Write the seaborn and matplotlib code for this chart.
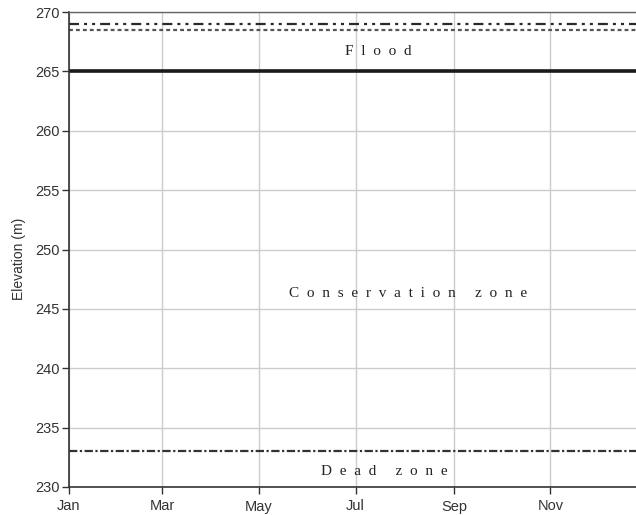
import matplotlib
matplotlib.use('Agg')
import matplotlib.pyplot as plt
import pandas as pd
import seaborn as sns

# Niveaux du réservoir (m)
dates = pd.to_datetime(['2001-01-01', '2001-12-31'])
niveau_max = [269.0, 269.0]
niveau_crue = [268.5, 268.5]
niveau_conservation = [265.0, 265.0]
niveau_mort = [233.0, 233.0]

zones = ['F  l  o  o  d', 'C  o  n  s  e  r  v  a  t  i  o  n     z  o  n  e', 'D  e  a  d     z  o  n  e']
zones_elev = [266.7, 246.3, 231.3]
zones_date = pd.to_datetime(['2001-07-15', '2001-08-03', '2001-07-19'])

mois = pd.to_datetime(['2001-01-01', '2001-03-01', '2001-05-01',
                       '2001-07-01', '2001-09-01', '2001-11-01'])
mois_labels = ['Jan', 'Mar', 'May', 'Jul', 'Sep', 'Nov']

sns.set_style('white')
plt.rcParams['font.family'] = ['Liberation Sans', 'DejaVu Sans']
plt.rcParams['lines.scale_dashes'] = False

fig = plt.figure(figsize=(6.36, 5.15), dpi=100)
ax = fig.add_axes([69 / 636, 1 - 487 / 515, 1 - 69 / 636, (487 - 12) / 515])

df = pd.DataFrame({'date': dates, 'max': niveau_max, 'crue': niveau_crue,
                   'cons': niveau_conservation, 'mort': niveau_mort})

sns.lineplot(data=df, x='date', y='max', ax=ax, color='#2a2a2a', lw=1.6,
             linestyle=(0, (7.2, 3.6, 2.2, 3.6, 2.2, 3.6)))
sns.lineplot(data=df, x='date', y='crue', ax=ax, color='#555555', lw=1.6,
             linestyle=(0, (2.8, 2.2)))
sns.lineplot(data=df, x='date', y='cons', ax=ax, color='#1a1a1a', lw=2.6)
sns.lineplot(data=df, x='date', y='mort', ax=ax, color='#333333', lw=1.6,
             linestyle=(0, (6.0, 1.8, 1.6, 1.8)))

for txt, d, e in zip(zones, zones_date, zones_elev):
    ax.text(d, e, txt, ha='center', va='center', fontsize=11,
            family=['Liberation Serif', 'DejaVu Serif'], color='#222222')

ax.set_ylim(230, 270)
ax.set_yticks(range(230, 271, 5))
ax.set_xlim(pd.Timestamp('2001-01-01'), pd.Timestamp('2001-12-25'))
ax.set_xticks(mois)
ax.set_xticklabels(mois_labels)
ax.grid(True, color='#cccccc', lw=1)
ax.set_axisbelow(True)
ax.tick_params(axis='both', direction='out', length=5, width=1, color='#333333',
               labelsize=10.5, labelcolor='#333333', left=True, bottom=True)
ax.tick_params(axis='x', pad=4)
ax.tick_params(axis='y', pad=2)
ax.set_xlabel('')
ax.set_ylabel('Elevation (m)', fontsize=10, color='#333333')
ax.yaxis.set_label_coords(-0.076, 0.48)

for s in ['left', 'bottom']:
    ax.spines[s].set_color('#333333')
    ax.spines[s].set_linewidth(1.2)
ax.spines['top'].set_color('#666666')
ax.spines['top'].set_linewidth(1)
ax.spines['right'].set_visible(False)

fig.savefig('out.png', dpi=100)
